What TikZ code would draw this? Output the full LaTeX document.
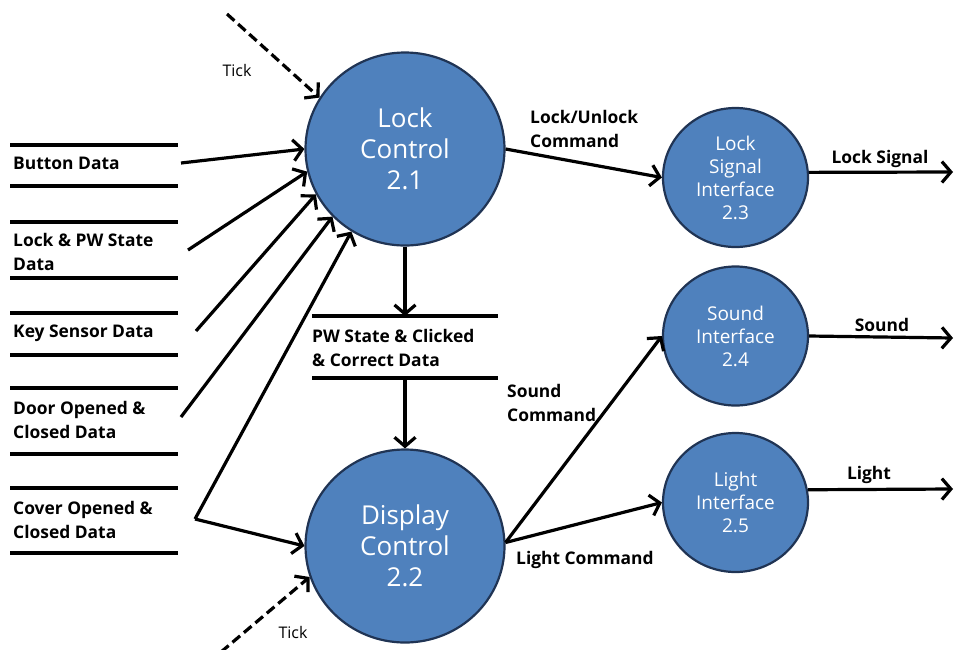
\documentclass[tikz,border=0pt]{standalone}
\usepackage{fontspec}
\setmainfont{Open Sans}
\usetikzlibrary{arrows.meta,shapes.geometric}
\definecolor{procfill}{RGB}{79,129,189}
\definecolor{procline}{RGB}{32,52,84}
\begin{document}
\begin{tikzpicture}[x=1pt,y=-1pt,
  proc/.style={ellipse, draw=procline, line width=2.2pt, fill=procfill, text=white, align=center, inner sep=0pt},
  bigproc/.style={proc, minimum width=199pt, minimum height=193pt, font=\fontsize{26}{31}\selectfont},
  smallproc/.style={proc, minimum width=145pt, minimum height=139pt, font=\fontsize{19}{23}\selectfont},
  lbl/.style={font=\bfseries\fontsize{17.4}{23.5}\selectfont, align=left, inner sep=0pt, anchor=west},
  clbl/.style={font=\bfseries\fontsize{17.4}{23.5}\selectfont, inner sep=0pt},
  ticklbl/.style={font=\fontsize{16}{20}\selectfont, inner sep=0pt},
  flow/.style={line width=3.2pt, -{Straight Barb[length=9pt,width=21pt]}},
  tickflow/.style={flow, dash pattern=on 10pt off 5pt},
  storeline/.style={line width=3.4pt}]
\useasboundingbox (0,0) rectangle (956,649);

% processes
\node[bigproc] (lc) at (405,149) {Lock\\Control\\2.1};
\node[bigproc] (dc) at (405,546) {Display\\Control\\2.2};
\node[smallproc] (lsi) at (735.5,177.5) {Lock\\Signal\\Interface\\2.3};
\node[smallproc] (si) at (735.5,336) {Sound\\Interface\\2.4};
\node[smallproc] (li) at (735.5,502.5) {Light\\Interface\\2.5};

% data stores (left)
\draw[storeline] (10,145) -- (178,145) (10,186) -- (178,186);
\node[lbl] (bd) at (13,163) {Button Data};
\draw[storeline] (10,222) -- (178,222) (10,278) -- (178,278);
\node[lbl] (lpw) at (13,252) {Lock \& PW State\\Data};
\draw[storeline] (10,313) -- (178,313) (10,355) -- (178,355);
\node[lbl] (ks) at (13,333) {Key Sensor Data};
\draw[storeline] (10,388) -- (178,388) (10,454) -- (178,454);
\node[lbl] (door) at (13,420) {Door Opened \&\\Closed Data};
\draw[storeline] (10,488) -- (178,488) (10,553) -- (178,553);
\node[lbl] (cover) at (13,520) {Cover Opened \&\\Closed Data};

% middle data store
\draw[storeline] (312,316) -- (498,316) (312,378) -- (498,378);
\node[lbl] (pw) at (312,348) {PW State \& Clicked\\\& Correct Data};
\coordinate (pwtop) at (405,316);
\coordinate (pwbot) at (405,378);

% free ends
\coordinate (bdout) at (181,163);
\coordinate (lpwout) at (188,250);
\coordinate (ksout) at (196,331);
\coordinate (doorout) at (181,417);
\coordinate (coverout) at (195,519);
\coordinate (tick1) at (227,14);
\coordinate (tick2) at (221,652);
\coordinate (lsout) at (953,172);
\coordinate (sout) at (953,338);
\coordinate (lout) at (953,489);

% flows into Lock Control
\draw[flow] (bdout) -- (lc.180);
\draw[flow] (lpwout) -- (lc.193.5);
\draw[flow] (ksout) -- (lc.207.6);
\draw[flow] (doorout) -- (lc.223.8);
\draw[flow] (coverout) -- (lc.237.8);
\draw[flow] (coverout) -- (dc.180);
\draw[tickflow] (tick1) -- (lc.149);
\draw[tickflow] (tick2) -- (dc.198.6);

% vertical flows
\draw[flow] (lc.south) -- (pwtop);
\draw[flow] (pwbot) -- (dc.north);

% outputs
\draw[flow] (lc.east) -- (lsi.west);
\draw[flow] (dc.2) -- (si.west);
\draw[flow] (dc.2) -- (li.west);
\draw[flow] (lsi.4.4) -- (lsout);
\draw[flow] (si.east) -- (sout);
\draw[flow] (li.10.8) -- (lout);

% labels
\node[ticklbl] (t1l) at (237,70) {Tick};
\node[ticklbl] (t2l) at (293,632) {Tick};
\node[lbl] (luc) at (530,129) {Lock/Unlock\\Command};
\node[clbl] (lsl) at (880,159) {Lock Signal};
\node[clbl] (sl) at (882,325) {Sound};
\node[clbl] (ll) at (869,475) {Light};
\node[lbl] (sc) at (507,403) {Sound\\Command};
\node[lbl] (lcm) at (516,560) {Light Command};
\end{tikzpicture}
\end{document}
